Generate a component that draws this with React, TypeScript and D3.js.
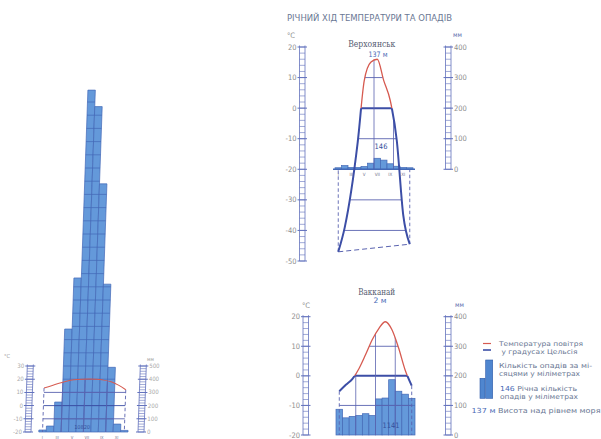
import React, { useEffect, useRef } from 'react'
import * as d3 from 'd3'

const MONTHS = ['I', 'II', 'III', 'IV', 'V', 'VI', 'VII', 'VIII', 'IX', 'X', 'XI', 'XII']
const MONTH_LABELS = ['I', 'III', 'V', 'VII', 'IX', 'XI']

// left diagram (very wet monsoon station)
const cherraTemp = [13.3, 15, 17, 18.5, 19.5, 20, 20.2, 20, 19.3, 18, 15.5, 12]
const cherraPrecip = [15, 45, 227, 780, 1167, 2590, 2465, 1880, 1120, 490, 60, 12]
const cherraTempTicks = [-20, -10, 0, 10, 20, 30]
const cherraPrecipTicks = [0, 100, 200, 300, 400, 500]

// Верхоянськ
const verkhTemp = [-47, -39, -27, -11, 9, 15, 16, 9, 2.5, -10.5, -35, -44.5]
const verkhPrecip = [5, 12, 6, 6, 9, 20, 36, 30, 18, 10, 6, 5]
const verkhTempTicks = [-50, -40, -30, -20, -10, 0, 10, 20]

// Вакканай
const wakkTemp = [-5.2, -3, -1, 2.5, 7.2, 12.2, 16, 18.3, 15.6, 9.5, 2, -3.3]
const wakkPrecip = [87, 58, 63, 66, 72, 66, 122, 125, 187, 148, 138, 124]
const wakkTempTicks = [-20, -10, 0, 10, 20]

const precipTicks400 = [0, 100, 200, 300, 400]

const BAR_FILL = '#6499da'
const BAR_STROKE = '#4368b6'
const RED = '#d65a50'
const BLUE = '#3c4ea6'
const GRID = '#5a63b0'
const LADDER = '#6372bd'
const TEXT = '#6a7894'
const NARROW = '"Liberation Sans Narrow", "DejaVu Sans Condensed", "Arial Narrow", sans-serif'

interface Diagram {
  key: string
  temp: number[]
  precip: number[]
  tDomain: [number, number]
  tRange: [number, number]
  pMax: number
  xRange: [number, number]
  leftX: number
  rightX: number
  ladderW: number
  tTicks: number[]
  pTicks: number[]
  fontSize: number
  labelColor: string
  zeroWidth: number
  redWidth: number
  blueWidth: number
  skew?: number
  monthLabelDy?: number
  monthFont?: number
  baseline?: boolean
  annual: string
  annualX: number
  annualY: number
  annualSize: number
}

const diagrams: Diagram[] = [
  {
    key: 'cherra',
    temp: cherraTemp,
    precip: cherraPrecip,
    tDomain: [-20, 30],
    tRange: [432, 366],
    pMax: 500,
    xRange: [38.8, 128],
    leftX: 25,
    rightX: 138,
    ladderW: 6,
    tTicks: cherraTempTicks,
    pTicks: cherraPrecipTicks,
    fontSize: 6,
    labelColor: '#a9a9a9',
    zeroWidth: 0.9,
    redWidth: 1,
    blueWidth: 1.2,
    skew: -2,
    monthLabelDy: 5.5,
    monthFont: 4,
    annual: '10820',
    annualX: 82,
    annualY: 429,
    annualSize: 5.5
  },
  {
    key: 'verkh',
    temp: verkhTemp,
    precip: verkhPrecip,
    tDomain: [-50, 20],
    tRange: [261, 47],
    pMax: 400,
    xRange: [335, 413],
    leftX: 299.5,
    rightX: 445.5,
    ladderW: 5.5,
    tTicks: verkhTempTicks,
    pTicks: precipTicks400,
    fontSize: 7.5,
    labelColor: '#8d8d8d',
    zeroWidth: 2,
    redWidth: 1.3,
    blueWidth: 2,
    monthLabelDy: 5,
    monthFont: 4.5,
    baseline: true,
    annual: '146',
    annualX: 381,
    annualY: 149,
    annualSize: 7.5
  },
  {
    key: 'wakk',
    temp: wakkTemp,
    precip: wakkPrecip,
    tDomain: [-20, 20],
    tRange: [435, 316.7],
    pMax: 400,
    xRange: [336, 415],
    leftX: 303,
    rightX: 445.5,
    ladderW: 5.5,
    tTicks: wakkTempTicks,
    pTicks: precipTicks400,
    fontSize: 7.5,
    labelColor: '#8d8d8d',
    zeroWidth: 2,
    redWidth: 1.3,
    blueWidth: 2,
    annual: '1141',
    annualX: 391,
    annualY: 428,
    annualSize: 7.5
  }
]

type Sel = d3.Selection<SVGGElement, unknown, null, undefined>

function drawLadder(
  g: Sel,
  x0: number,
  w: number,
  scale: d3.ScaleLinear<number, number>,
  lo: number,
  hi: number,
  minor: number,
  ticks: number[],
  side: 'left' | 'right',
  fontSize: number,
  labelColor: string
) {
  const axis = g.append('g').attr('stroke', LADDER).attr('stroke-width', 0.8)
  ;[x0, x0 + w].forEach((xx) => {
    axis.append('line').attr('x1', xx).attr('x2', xx).attr('y1', scale(lo)).attr('y2', scale(hi) - 1.5)
  })
  d3.range(lo, hi + 1e-6, minor).forEach((v) => {
    axis.append('line').attr('x1', x0).attr('x2', x0 + w).attr('y1', scale(v)).attr('y2', scale(v)).attr('stroke-width', 0.6)
  })
  ticks.forEach((v) => {
    axis.append('line').attr('x1', x0 - 2).attr('x2', x0 + w + 2).attr('y1', scale(v)).attr('y2', scale(v)).attr('stroke-width', 1)
    g.append('text')
      .attr('x', side === 'left' ? x0 - 3 : x0 + w + 3)
      .attr('y', scale(v))
      .attr('dy', '0.35em')
      .attr('text-anchor', side === 'left' ? 'end' : 'start')
      .attr('font-family', NARROW)
      .attr('font-size', fontSize)
      .attr('fill', labelColor)
      .text(String(v))
  })
}

function drawDiagram(svg: d3.Selection<SVGSVGElement, unknown, null, undefined>, c: Diagram) {
  const defs = svg.append('defs')
  const t = d3.scaleLinear().domain(c.tDomain).range(c.tRange)
  const base = t(-20)
  const p = d3.scaleLinear().domain([0, c.pMax]).range([base, t(-20 + c.pMax / 10)])
  const x = d3.scaleBand<string>().domain(MONTHS).range(c.xRange).padding(0)
  const cx = (i: number) => (x(MONTHS[i]) ?? 0) + x.bandwidth() / 2

  const g = svg.append('g')
  if (c.skew) g.attr('transform', `translate(0,${base}) skewX(${c.skew}) translate(0,${-base})`)

  // bars
  defs
    .append('clipPath')
    .attr('id', `bars-${c.key}`)
    .selectAll('rect')
    .data(c.precip)
    .join('rect')
    .attr('x', (_, i) => x(MONTHS[i]) ?? 0)
    .attr('y', (d) => p(d))
    .attr('width', x.bandwidth())
    .attr('height', (d) => base - p(d))

  g.append('g')
    .selectAll('rect')
    .data(c.precip)
    .join('rect')
    .attr('x', (_, i) => x(MONTHS[i]) ?? 0)
    .attr('y', (d) => p(d))
    .attr('width', x.bandwidth())
    .attr('height', (d) => base - p(d))
    .attr('fill', BAR_FILL)
    .attr('stroke', BAR_STROKE)
    .attr('stroke-width', 0.7)

  const maxP = d3.max(c.precip) ?? 0
  g.append('g')
    .attr('clip-path', `url(#bars-${c.key})`)
    .selectAll('line')
    .data(d3.range(100, maxP, 100))
    .join('line')
    .attr('x1', c.xRange[0])
    .attr('x2', c.xRange[1])
    .attr('y1', (d) => p(d))
    .attr('y2', (d) => p(d))
    .attr('stroke', BAR_STROKE)
    .attr('stroke-width', 0.7)

  // temperature envelope
  const pts: [number, number][] = c.temp.map((v, i) => [cx(i), t(v)])
  const curve = d3.line().curve(d3.curveMonotoneX)(pts) ?? ''
  const first = pts[0]
  const last = pts[pts.length - 1]
  const yL = Math.max(first[1], base)
  const yR = Math.max(last[1], base)
  defs
    .append('clipPath')
    .attr('id', `env-${c.key}`)
    .append('path')
    .attr('d', `${curve}L${last[0]},${yR}L${first[0]},${yL}Z`)

  const env = g.append('g').attr('clip-path', `url(#env-${c.key})`)
  c.tTicks
    .filter((v) => v !== -20)
    .forEach((v) => {
      env
        .append('line')
        .attr('x1', c.xRange[0] - 3)
        .attr('x2', c.xRange[1] + 3)
        .attr('y1', t(v))
        .attr('y2', t(v))
        .attr('stroke', v === 0 ? BLUE : GRID)
        .attr('stroke-width', v === 0 ? c.zeroWidth : 0.9)
    })
  ;[3, 6, 9].forEach((i) => {
    const xx = x(MONTHS[i]) ?? 0
    env.append('line').attr('x1', xx).attr('x2', xx).attr('y1', t(c.tDomain[1])).attr('y2', base).attr('stroke', GRID).attr('stroke-width', 0.8)
  })

  // dashed closures
  ;[first, last].forEach((pt) => {
    g.append('line')
      .attr('x1', pt[0])
      .attr('x2', pt[0])
      .attr('y1', pt[1])
      .attr('y2', base)
      .attr('stroke', GRID)
      .attr('stroke-width', 0.9)
      .attr('stroke-dasharray', '3.5,2.5')
  })
  if (first[1] > base && last[1] > base) {
    g.append('line')
      .attr('x1', first[0])
      .attr('x2', last[0])
      .attr('y1', first[1])
      .attr('y2', last[1])
      .attr('stroke', GRID)
      .attr('stroke-width', 1)
      .attr('stroke-dasharray', '5,3')
  }
  if (c.baseline) {
    g.append('line')
      .attr('x1', c.xRange[0] - 2)
      .attr('x2', c.xRange[1] + 2)
      .attr('y1', base)
      .attr('y2', base)
      .attr('stroke', BAR_STROKE)
      .attr('stroke-width', 1.6)
  }

  // temperature curve, red above 0 and blue below
  defs.append('clipPath').attr('id', `above-${c.key}`).append('rect').attr('x', 0).attr('y', -1000).attr('width', 700).attr('height', t(0) + 1000)
  defs.append('clipPath').attr('id', `below-${c.key}`).append('rect').attr('x', 0).attr('y', t(0)).attr('width', 700).attr('height', 1000)
  g.append('path').attr('d', curve).attr('fill', 'none').attr('stroke', RED).attr('stroke-width', c.redWidth).attr('clip-path', `url(#above-${c.key})`)
  g.append('path').attr('d', curve).attr('fill', 'none').attr('stroke', BLUE).attr('stroke-width', c.blueWidth).attr('clip-path', `url(#below-${c.key})`)

  // ladder axes
  drawLadder(g, c.leftX, c.ladderW, t, c.tDomain[0], c.tDomain[1], 2, c.tTicks, 'left', c.fontSize, c.labelColor)
  drawLadder(g, c.rightX, c.ladderW, p, 0, c.pMax, 20, c.pTicks, 'right', c.fontSize, c.labelColor)

  if (c.monthLabelDy) {
    g.append('g')
      .selectAll('text')
      .data(MONTH_LABELS)
      .join('text')
      .attr('x', (d) => (x(d) ?? 0) + x.bandwidth() / 2)
      .attr('y', base + c.monthLabelDy)
      .attr('dy', '0.35em')
      .attr('text-anchor', 'middle')
      .attr('font-family', NARROW)
      .attr('font-size', c.monthFont ?? 4)
      .attr('fill', '#6b6b8a')
      .text((d) => d)
  }

  g.append('text')
    .attr('x', c.annualX)
    .attr('y', c.annualY)
    .attr('text-anchor', 'middle')
    .attr('font-family', NARROW)
    .attr('font-size', c.annualSize)
    .attr('fill', '#34509c')
    .text(c.annual)
}

function label(
  g: Sel,
  x: number,
  y: number,
  text: string,
  size: number,
  opts: { anchor?: string; len?: number; fill?: string; family?: string } = {}
) {
  const el = g
    .append('text')
    .attr('x', x)
    .attr('y', y)
    .attr('text-anchor', opts.anchor ?? 'start')
    .attr('font-family', opts.family ?? NARROW)
    .attr('font-size', size)
    .attr('fill', opts.fill ?? TEXT)
    .text(text)
  if (opts.len) el.attr('textLength', opts.len).attr('lengthAdjust', 'spacingAndGlyphs')
  return el
}

export default function App() {
  const ref = useRef<SVGSVGElement | null>(null)

  useEffect(() => {
    if (!ref.current) {
      return
    }
    const svg = d3.select(ref.current)
    svg.selectAll('*').remove()
    svg.append('rect').attr('width', 601).attr('height', 439).attr('fill', '#ffffff')

    diagrams.forEach((d) => drawDiagram(svg, d))

    const txt = svg.append('g') as unknown as Sel
    label(txt, 287, 20.5, 'РІЧНИЙ ХІД ТЕМПЕРАТУРИ ТА ОПАДІВ', 9.5, { len: 165 })

    // units
    label(txt, 4, 358, '°C', 5.5, { fill: '#9a9a9a' })
    label(txt, 147, 361, 'мм', 5, { fill: '#9a9a9a' })
    label(txt, 287, 38, '°C', 7.5, { fill: '#8d8d8d' })
    label(txt, 453, 37, 'мм', 6.5, { fill: '#5566aa' })
    label(txt, 302, 308, '°C', 7.5, { fill: '#8d8d8d' })
    label(txt, 455, 307, 'мм', 6.5, { fill: '#5566aa' })

    // station names
    const serif = '"DejaVu Serif", "Liberation Serif", serif'
    label(txt, 371.7, 47, 'Верхоянськ', 8.5, { anchor: 'middle', len: 47, fill: '#555b70', family: serif })
    label(txt, 378, 56.5, '137 м', 7.5, { anchor: 'middle', len: 19, fill: '#4768b5' })
    label(txt, 376.7, 295, 'Вакканай', 8.5, { anchor: 'middle', len: 37, fill: '#555b70', family: serif })
    label(txt, 380, 303, '2 м', 7.5, { anchor: 'middle', len: 13, fill: '#4768b5' })

    // legend
    const lg = svg.append('g') as unknown as Sel
    lg.append('line').attr('x1', 483).attr('x2', 491).attr('y1', 343.5).attr('y2', 343.5).attr('stroke', RED).attr('stroke-width', 1.2)
    lg.append('line').attr('x1', 483).attr('x2', 491).attr('y1', 350).attr('y2', 350).attr('stroke', BLUE).attr('stroke-width', 1.6)
    lg.append('rect').attr('x', 480).attr('y', 378.3).attr('width', 5).attr('height', 20).attr('fill', '#4f86cf').attr('stroke', '#2e5aa8').attr('stroke-width', 0.6)
    lg.append('rect').attr('x', 485.7).attr('y', 360).attr('width', 7).attr('height', 38.3).attr('fill', '#4f86cf').attr('stroke', '#2e5aa8').attr('stroke-width', 0.6)

    label(lg, 499, 346, 'Температура повітря', 6.6, { len: 84 })
    label(lg, 501.5, 353.5, 'у градусах Цельсія', 6.6, { len: 76 })
    label(lg, 499, 367.5, 'Кількість опадів за мі-', 6.8, { len: 93 })
    label(lg, 499, 375.5, 'сяцями у міліметрах', 6.8, { len: 81 })
    const l5 = label(lg, 500, 390.5, '', 6.8, { len: 77 })
    l5.append('tspan').attr('fill', '#4768b5').text('146')
    l5.append('tspan').text(' Річна  кількість')
    label(lg, 500, 399, 'опадів у міліметрах', 6.8, { len: 78 })
    const l7 = label(lg, 471.5, 413, '', 7, { len: 129 })
    l7.append('tspan').attr('fill', '#4768b5').text('137 м')
    l7.append('tspan').text(' Висота над рівнем моря')
  }, [])

  return (
    <svg
      ref={ref}
      width={601}
      height={439}
      viewBox="0 0 601 439"
      style={{ position: 'absolute', left: 0, top: 0, display: 'block' }}
    />
  )
}
